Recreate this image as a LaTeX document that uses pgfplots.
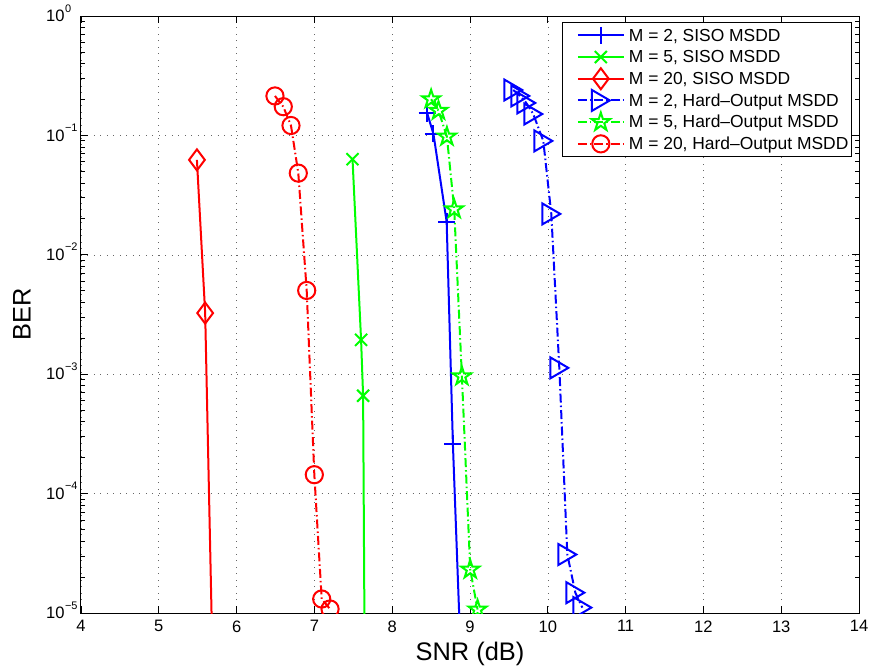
\documentclass[border=0pt]{standalone}
\usepackage{fontspec}
\setmainfont{Liberation Sans}
\usepackage{pgfplots}
\pgfplotsset{compat=1.18}
\usetikzlibrary{plotmarks}

\pgfdeclareplotmark{rtri}{%
 \pgfpathmoveto{\pgfqpoint{0.857\pgfplotmarksize}{0pt}}%
 \pgfpathlineto{\pgfqpoint{-0.857\pgfplotmarksize}{\pgfplotmarksize}}%
 \pgfpathlineto{\pgfqpoint{-0.857\pgfplotmarksize}{-\pgfplotmarksize}}%
 \pgfpathclose\pgfusepathqstroke}

\pgfdeclareplotmark{pstar}{%
 \pgfpathmoveto{\pgfqpointpolar{90}{\pgfplotmarksize}}%
 \pgfpathlineto{\pgfqpointpolar{126}{0.382\pgfplotmarksize}}%
 \pgfpathlineto{\pgfqpointpolar{162}{\pgfplotmarksize}}%
 \pgfpathlineto{\pgfqpointpolar{198}{0.382\pgfplotmarksize}}%
 \pgfpathlineto{\pgfqpointpolar{234}{\pgfplotmarksize}}%
 \pgfpathlineto{\pgfqpointpolar{270}{0.382\pgfplotmarksize}}%
 \pgfpathlineto{\pgfqpointpolar{306}{\pgfplotmarksize}}%
 \pgfpathlineto{\pgfqpointpolar{342}{0.382\pgfplotmarksize}}%
 \pgfpathlineto{\pgfqpointpolar{18}{\pgfplotmarksize}}%
 \pgfpathlineto{\pgfqpointpolar{54}{0.382\pgfplotmarksize}}%
 \pgfpathclose\pgfusepathqstroke}

\newcommand{\sep}[1]{10\rlap{\smash{\kern0.6bp\raisebox{9.5bp}{\fontsize{11}{12}\selectfont #1}}}}

\begin{document}
\begin{tikzpicture}
\begin{axis}[
  name=ax,
  scale only axis, width=778bp, height=597bp,
  xmin=4, xmax=14, ymode=log, ymin=1e-5, ymax=1,
  xtick={4,5,6,7,8,9,10,11,12,13,14},
  ytick={1e-5,1e-4,1e-3,1e-2,1e-1,1},
  yticklabels={\sep{−5},\sep{−4},\sep{−3},\sep{−2},\sep{−1},\sep{0}},
  /pgf/number format/assume math mode=true,
  ticklabel style={font=\fontsize{16.6}{19}\selectfont},
  xticklabel style={yshift=-4bp},
  yticklabel style={xshift=-13bp},
  tick align=inside,
  major tick length=7bp, minor tick length=4bp,
  every tick/.style={black, line width=0.8bp},
  grid=major,
  major grid style={black!60, line width=0.6bp, dash pattern=on 1bp off 5.5bp},
  axis line style={line width=1bp},
  xlabel={SNR (dB)}, ylabel={BER},
  label style={font=\fontsize{25.5}{30}\selectfont},
  xlabel style={at={([yshift=-40.5bp]axis description cs:0.5,0)}, anchor=center},
  ylabel style={at={([xshift=-59bp]axis description cs:0,0.5)}, anchor=center},
  clip marker paths=true,
  every axis plot/.append style={line width=2bp},
  legend style={at={(rel axis cs:1,1)}, anchor=north east, xshift=-7bp, yshift=-6bp,
    font=\fontsize{17.5}{20}\selectfont, draw=black, line width=1bp,
    inner xsep=1bp, inner ysep=2bp, row sep=0pt, column sep=2bp,
    nodes={inner sep=2.1bp, text height=14.5bp, text depth=3bp}},
  legend cell align=left,
  legend image code/.code={%
    \path (-13bp,0bp) (46bp,0bp);
    \draw[mark repeat=2,mark phase=2] plot coordinates {(0bp,0bp) (23bp,0bp) (46bp,0bp)};},
]
% M=2 SISO
\addplot[blue, mark=+, mark size=8.5bp, mark options={solid}] coordinates {
 (8.45,0.153) (8.53,0.103) (8.70,0.0189) (8.78,2.62e-4) (8.90,2.0e-6)};
\addlegendentry{M = 2, SISO MSDD}
% M=5 SISO
\addplot[green, mark=x, mark size=8.5bp, mark options={solid}] coordinates {
 (7.49,0.0632) (7.60,1.94e-3) (7.626,6.6e-4) (7.65,1.5e-6)};
\addlegendentry{M = 5, SISO MSDD}
% M=20 SISO
\addplot[red, mark=diamond, mark size=10.5bp, mark options={solid}] coordinates {
 (5.49,0.0624) (5.596,3.25e-3) (5.70,2.1e-6)};
\addlegendentry{M = 20, SISO MSDD}
% M=2 Hard
\addplot[blue, dash pattern=on 9bp off 3bp on 1.5bp off 3bp, mark=rtri, mark size=10.5bp, mark options={solid}] coordinates {
 (9.556,0.240) (9.646,0.214) (9.723,0.187) (9.813,0.151) (9.942,0.0899)
 (10.045,0.0220) (10.148,1.13e-3) (10.251,3.09e-5) (10.354,1.48e-5) (10.444,1.11e-5)};
\addlegendentry{M = 2, Hard–Output MSDD}
% M=5 Hard
\addplot[green, dash pattern=on 9bp off 3bp on 1.5bp off 3bp, mark=pstar, mark size=9.5bp, mark options={solid}] coordinates {
 (8.50,0.201) (8.595,0.161) (8.703,0.0977) (8.797,0.0241) (8.896,9.6e-4)
 (9.003,2.31e-5) (9.097,1.07e-5)};
\addlegendentry{M = 5, Hard–Output MSDD}
% M=20 Hard
\addplot[red, dash pattern=on 9bp off 3bp on 1.5bp off 3bp, mark=o, mark size=8.6bp, mark options={solid}] coordinates {
 (6.493,0.214) (6.60,0.174) (6.699,0.121) (6.793,0.0483) (6.901,5.03e-3)
 (6.999,1.44e-4) (7.094,1.31e-5) (7.201,1.08e-5)};
\addlegendentry{M = 20, Hard–Output MSDD}
\end{axis}
\pgfresetboundingbox
\path[use as bounding box] ([shift={(-81bp,-58bp)}]ax.south west) rectangle ([shift={(13bp,16bp)}]ax.north east);
\end{tikzpicture}
\end{document}
